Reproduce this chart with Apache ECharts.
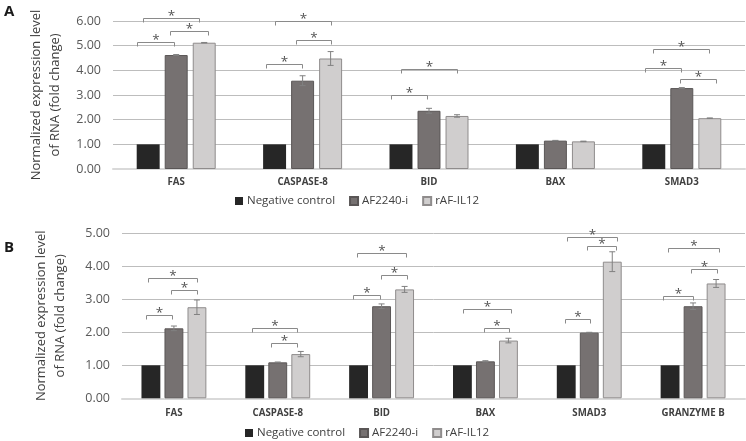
<!DOCTYPE html>
<html>
<head>
<meta charset="utf-8">
<script src="https://cdn.jsdelivr.net/npm/echarts@6/dist/echarts.min.js"></script>
<style>
html,body{margin:0;padding:0;background:#fff;}
#chart{width:746px;height:441px;}
</style>
</head>
<body>
<div id="chart"></div>
<script>
// ---------- Data ----------
const seriesNames = ['Negative control', 'AF2240-i', 'rAF-IL12'];

// Panel A
const topCategories = ['FAS', 'CASPASE-8', 'BID', 'BAX', 'SMAD3'];
const topNegative = [1, 1, 1, 1, 1];
const topAF = [4.62, 3.58, 2.36, 1.15, 3.28];
const topRAF = [5.12, 4.48, 2.15, 1.12, 2.06];
const topAFErr = [0.02, 0.20, 0.10, 0.01, 0.02];
const topRAFErr = [0.01, 0.28, 0.05, 0.01, 0.01];
const topTicks = [0, 1, 2, 3, 4, 5, 6];

// Panel B
const bottomCategories = ['FAS', 'CASPASE-8', 'BID', 'BAX', 'SMAD3', 'GRANZYME B'];
const bottomNegative = [1, 1, 1, 1, 1, 1];
const bottomAF = [2.12, 1.09, 2.79, 1.12, 1.99, 2.79];
const bottomRAF = [2.76, 1.34, 3.30, 1.75, 4.14, 3.48];
const bottomAFErr = [0.07, 0.01, 0.07, 0.02, 0.01, 0.10];
const bottomRAFErr = [0.22, 0.08, 0.09, 0.07, 0.30, 0.12];
const bottomTicks = [0, 1, 2, 3, 4, 5];

// significance brackets: [category index, from bar slot, to bar slot, level (fold change)]
const topBrackets = [
  [0, -1.39, -0.07, 5.15], [0, -0.21, 1.14, 5.61], [0, -1.18, 0.82, 6.11],
  [1, -1.31, -0.02, 4.26], [1, -0.24, 1.01, 5.22], [1, -0.99, 1.01, 5.99],
  [2, -1.36, -0.07, 3.00], [2, -1.00, 1.00, 4.05],
  [4, -1.32, -0.04, 4.10], [4, -1.04, 0.96, 4.85], [4, -0.07, 1.21, 3.66]
];
const bottomBrackets = [
  [0, -1.23, -0.10, 2.53], [0, -0.14, 0.99, 3.27], [0, -1.12, 1.00, 3.64],
  [1, -0.28, 0.83, 1.67], [1, -1.10, 0.85, 2.12],
  [2, -1.23, -0.07, 3.14], [2, -0.03, 1.09, 3.73], [2, -1.08, 1.05, 4.39],
  [3, -0.07, 1.04, 2.14], [3, -0.96, 1.13, 2.71],
  [4, -1.06, 0.05, 2.40], [4, -0.10, 1.17, 4.62], [4, -0.97, 1.20, 4.90],
  [5, -1.31, -0.01, 3.10], [5, -0.11, 1.03, 3.91], [5, -1.07, 1.12, 4.56]
];

// ---------- Styling ----------
const colors = ['#262626', '#767171', '#d0cece'];
const borders = ['#262626', '#5a5656', '#8f8c8c'];
const BAR_CAT_GAP = 0.375, BAR_GAP = 0.22;
const FONT = '"Open Sans", "Liberation Sans", sans-serif';

function slotWidth(api) {
  const band = api.size([1, 0])[0];
  const w = band * (1 - BAR_CAT_GAP) / (3 + 2 * BAR_GAP);
  return w * (1 + BAR_GAP);
}

function errorRender(params, api) {
  const cat = api.value(0), slot = api.value(1), v = api.value(2), e = api.value(3);
  const c = api.coord([cat, v]);
  const x = c[0] + (slot - 1) * slotWidth(api);
  const yt = api.coord([cat, v + e])[1];
  const yb = api.coord([cat, v - e])[1];
  const st = {stroke: '#808080', lineWidth: 1};
  return {type: 'group', children: [
    {type: 'line', shape: {x1: x, y1: yt, x2: x, y2: yb}, style: st},
    {type: 'line', shape: {x1: x - 3, y1: yt, x2: x + 3, y2: yt}, style: st},
    {type: 'line', shape: {x1: x - 3, y1: yb, x2: x + 3, y2: yb}, style: st}
  ]};
}

function bracketRender(params, api) {
  const cat = api.value(0), a = api.value(1), b = api.value(2), lvl = api.value(3);
  const c = api.coord([cat, lvl]);
  const s = slotWidth(api);
  const x1 = Math.round(c[0] + a * s) + 0.5, x2 = Math.round(c[0] + b * s) + 0.5;
  const y = Math.round(c[1]) + 0.5;
  const st = {stroke: '#8a8a8a', lineWidth: 1, fill: null};
  return {type: 'group', children: [
    {type: 'polyline', shape: {points: [[x1, y + 4], [x1, y], [x2, y], [x2, y + 4]]}, style: st},
    {type: 'text', style: {text: '*', x: (x1 + x2) / 2, y: y - 2, align: 'center', verticalAlign: 'middle',
      fontSize: 13.5, fontFamily: FONT, fill: '#555'}}
  ]};
}

function buildErr(af, afErr, raf, rafErr) {
  const out = [];
  af.forEach((v, i) => { out.push([i, 1, v, afErr[i]]); out.push([i, 2, raf[i], rafErr[i]]); });
  return out;
}

function barSeries(idx, data, axis) {
  return {
    name: seriesNames[idx], type: 'bar', data: data,
    xAxisIndex: axis, yAxisIndex: axis,
    barCategoryGap: (BAR_CAT_GAP * 100) + '%', barGap: (BAR_GAP * 100) + '%',
    itemStyle: {color: colors[idx], borderColor: borders[idx], borderWidth: idx === 0 ? 0 : 1},
    emphasis: {disabled: true}, animation: false
  };
}

function yAxis(gridIndex, maxTick, nameGap) {
  return {
    type: 'value', gridIndex: gridIndex, min: 0, max: maxTick, interval: 1,
    axisLabel: {formatter: v => v.toFixed(2), color: '#595959', fontSize: 12.5, fontFamily: FONT, margin: 12},
    axisLine: {show: false}, axisTick: {show: false},
    splitLine: {lineStyle: {color: '#bdbdbd', width: 1}},
    name: 'Normalized expression level\nof RNA (fold change)',
    nameLocation: 'middle', nameRotate: 90, nameGap: nameGap,
    nameTextStyle: {color: '#404040', fontSize: 13, fontFamily: FONT, lineHeight: 19}
  };
}

function xAxis(gridIndex, cats, margin) {
  return {
    type: 'category', gridIndex: gridIndex, data: cats,
    axisLine: {lineStyle: {color: '#d9d9d9', width: 2}},
    axisTick: {show: false},
    axisLabel: {color: '#404040', fontWeight: 'bold', fontSize: 9.7, fontFamily: FONT, margin: margin}
  };
}

function legend(left, top) {
  return {
    data: seriesNames, left: left, top: top, padding: 0, itemWidth: 8, itemHeight: 8, itemGap: 14,
    icon: 'rect', selectedMode: false,
    textStyle: {color: '#404040', fontSize: 11.5, fontFamily: FONT, padding: [0, 0, 0, -1]}
  };
}

const option = {
  animation: false,
  backgroundColor: '#fff',
  grid: [
    {left: 113, right: 1, top: 21, bottom: 272},
    {left: 122, right: 1, top: 233.3, bottom: 42.7}
  ],
  xAxis: [xAxis(0, topCategories, 8), xAxis(1, bottomCategories, 10)],
  yAxis: [yAxis(0, topTicks[topTicks.length - 1], 48), yAxis(1, bottomTicks[bottomTicks.length - 1], 52)],
  legend: [legend(235, 195), legend(245, 427)],
  graphic: [
    {type: 'text', left: 4, top: 4, style: {text: 'A', fontSize: 15, fontWeight: 'bold', fontFamily: FONT, fill: '#1a1a1a'}},
    {type: 'text', left: 4, top: 240, style: {text: 'B', fontSize: 15, fontWeight: 'bold', fontFamily: FONT, fill: '#1a1a1a'}}
  ],
  series: [
    barSeries(0, topNegative, 0), barSeries(1, topAF, 0), barSeries(2, topRAF, 0),
    barSeries(0, bottomNegative, 1), barSeries(1, bottomAF, 1), barSeries(2, bottomRAF, 1),
    {type: 'custom', xAxisIndex: 0, yAxisIndex: 0, renderItem: errorRender, clip: false, z: 5,
      data: buildErr(topAF, topAFErr, topRAF, topRAFErr), silent: true},
    {type: 'custom', xAxisIndex: 1, yAxisIndex: 1, renderItem: errorRender, clip: false, z: 5,
      data: buildErr(bottomAF, bottomAFErr, bottomRAF, bottomRAFErr), silent: true},
    {type: 'custom', xAxisIndex: 0, yAxisIndex: 0, renderItem: bracketRender, clip: false, z: 5,
      data: topBrackets, silent: true},
    {type: 'custom', xAxisIndex: 1, yAxisIndex: 1, renderItem: bracketRender, clip: false, z: 5,
      data: bottomBrackets, silent: true}
  ]
};

const chart = echarts.init(document.getElementById('chart'), null, {renderer: 'canvas'});
chart.setOption(option);
</script>
</body>
</html>
